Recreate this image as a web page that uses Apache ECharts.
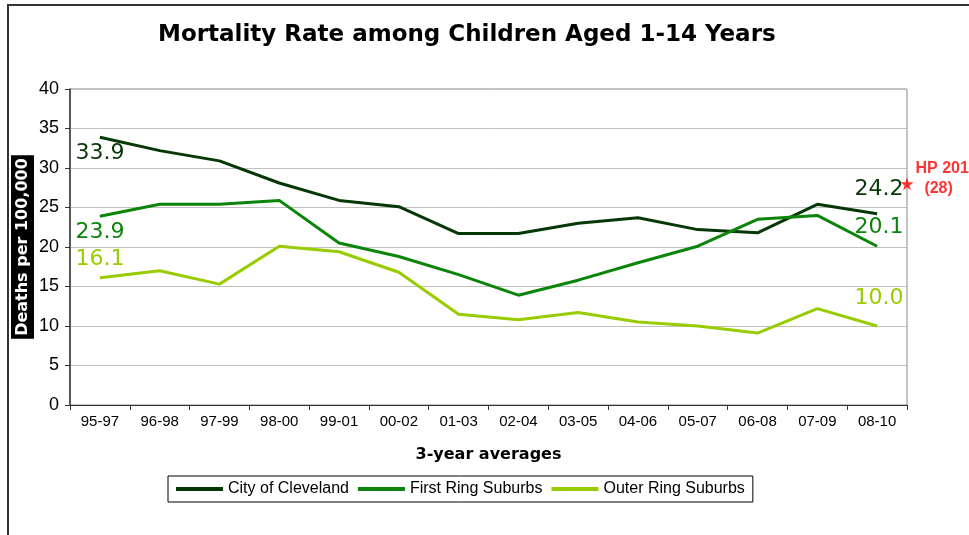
<!DOCTYPE html>
<html>
<head>
<meta charset="utf-8">
<script src="https://cdn.jsdelivr.net/npm/echarts@6/dist/echarts.min.js"></script>
<style>
  html, body { margin: 0; padding: 0; background: #fff; }
  #chart { width: 969px; height: 535px; }
</style>
</head>
<body>
<div id="chart"></div>
<script>
// 3-year averages
const periods = ['95-97', '96-98', '97-99', '98-00', '99-01', '00-02', '01-03',
  '02-04', '03-05', '04-06', '05-07', '06-08', '07-09', '08-10']

// deaths per 100,000
const cleveland = [33.9, 32.2, 30.9, 28.1, 25.9, 25.1, 21.7, 21.7, 23.0, 23.7, 22.2, 21.8, 25.4, 24.2]
const firstRing = [23.9, 25.4, 25.4, 25.9, 20.5, 18.8, 16.5, 13.9, 15.8, 18.0, 20.1, 23.5, 24.0, 20.1]
const outerRing = [16.1, 17.0, 15.3, 20.1, 19.4, 16.8, 11.5, 10.8, 11.7, 10.5, 10.0, 9.1, 12.2, 10.0]

// Healthy People 2010 target
const hpTarget = 28

const yTicks = { min: 0, max: 40, interval: 5 }

const font = '"Liberation Sans", Arial, sans-serif'
const wide = '"DejaVu Sans", sans-serif'
const star = 'path://M50,0 L61,35 L98,35 L68,57 L79,91 L50,70 L21,91 L32,57 L2,35 L39,35 Z'

// label only the first and last point of each line
function endLabels(values, color, firstPos, firstDist, lastDist) {
  return values.map((v, i) => {
    const first = i === 0
    if (!first && i !== values.length - 1) return v
    return {
      value: v,
      label: {
        show: true,
        position: first ? firstPos : 'top',
        distance: first ? firstDist : lastDist,
        offset: first ? [0, 0] : [2, 0],
        formatter: (p) => p.value.toFixed(1),
        color: color,
        fontSize: 22,
        fontFamily: wide
      }
    }
  })
}

function lineSeries(name, values, color, firstPos, firstDist, lastDist) {
  return {
    name: name,
    type: 'line',
    data: endLabels(values, color, firstPos, firstDist, lastDist),
    showSymbol: true,
    symbol: 'circle',
    symbolSize: 0,
    lineStyle: { color: color, width: 3 },
    itemStyle: { color: color },
    emphasis: { disabled: true },
    z: 3
  }
}

const chart = echarts.init(document.getElementById('chart'))

const options = {
  animation: false,
  textStyle: { fontFamily: font },
  title: {
    text: 'Mortality Rate among Children Aged 1-14 Years',
    left: 153,
    top: 19,
    textStyle: {
      fontFamily: wide,
      fontSize: 23,
      fontWeight: 'bold',
      color: '#000'
    }
  },
  graphic: [
    {
      type: 'rect',
      x: 8,
      y: 5,
      shape: { x: 0, y: 0, width: 1100, height: 700 },
      style: { fill: 'none', stroke: '#333', lineWidth: 2 },
      silent: true,
      z: -10
    }
  ],
  grid: {
    left: 70,
    right: 62,
    top: 89,
    bottom: 130,
    outerBoundsMode: 'none',
    show: true,
    borderColor: '#888',
    borderWidth: 1
  },
  legend: {
    bottom: 33,
    left: 168,
    data: ['City of Cleveland', 'First Ring Suburbs', 'Outer Ring Suburbs'],
    icon: 'rect',
    itemWidth: 47,
    itemHeight: 4,
    itemGap: 9,
    padding: [5, 8],
    borderColor: '#000',
    borderWidth: 1,
    textStyle: { fontSize: 16, color: '#000', fontFamily: font }
  },
  xAxis: [
    {
      type: 'category',
      data: periods,
      boundaryGap: true,
      axisLine: { lineStyle: { color: '#333', width: 1 } },
      axisTick: { show: true, length: 5, lineStyle: { color: '#333' } },
      axisLabel: { color: '#000', fontSize: 15, margin: 9, interval: 0, fontFamily: font },
      name: '3-year averages',
      nameLocation: 'middle',
      nameGap: 42,
      nameMoveOverlap: false,
      nameTextStyle: { fontSize: 16, fontWeight: 'bold', color: '#000', fontFamily: wide }
    },
    {
      type: 'value',
      min: 0,
      max: periods.length,
      show: false
    }
  ],
  yAxis: {
    type: 'value',
    min: yTicks.min,
    max: yTicks.max,
    interval: yTicks.interval,
    axisLine: { show: true, lineStyle: { color: '#333', width: 1.5 } },
    axisTick: { show: true, length: 5, inside: false, lineStyle: { color: '#333' } },
    axisLabel: { color: '#000', fontSize: 18, margin: 11, fontFamily: font },
    splitLine: { lineStyle: { color: '#c0c0c0', width: 1 } },
    name: 'Deaths per 100,000',
    nameLocation: 'middle',
    nameRotate: 90,
    nameGap: 36,
    nameMoveOverlap: false,
    nameTextStyle: {
      color: '#fff',
      backgroundColor: '#000',
      fontWeight: 'bold',
      fontSize: 16,
      padding: [4, 3, 3, 3],
      fontFamily: wide
    }
  },
  series: [
    lineSeries('City of Cleveland', cleveland, '#063806', 'bottom', 5, 14),
    lineSeries('First Ring Suburbs', firstRing, '#0a850a', 'bottom', 5, 8),
    lineSeries('Outer Ring Suburbs', outerRing, '#99cc00', 'top', 8, 17),
    {
      name: 'HP 2010',
      type: 'scatter',
      xAxisIndex: 1,
      data: [[periods.length, hpTarget]],
      symbol: star,
      symbolSize: 13,
      itemStyle: { color: '#ff0000' },
      emphasis: { disabled: true },
      label: {
        show: true,
        position: 'right',
        distance: 2,
        offset: [0, -5],
        formatter: 'HP 2010\n  (' + hpTarget + ')',
        color: '#ff0000',
        fontWeight: 'bold',
        fontSize: 16,
        lineHeight: 20,
        align: 'left',
        fontFamily: font
      },
      z: 5
    }
  ]
}

chart.setOption(options)

window.addEventListener('resize', chart.resize)
</script>
</body>
</html>
